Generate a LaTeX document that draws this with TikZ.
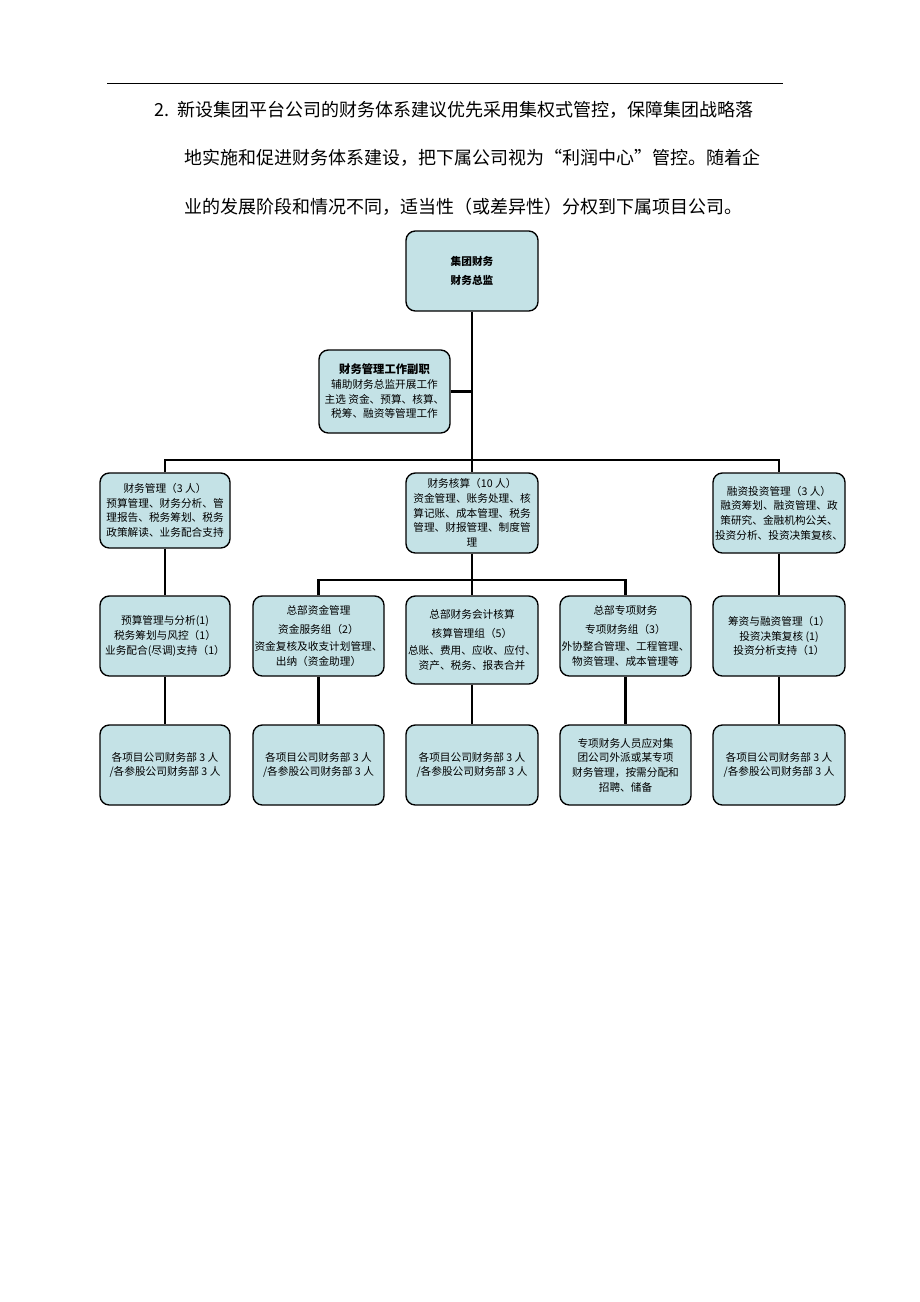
\documentclass[tikz,border=0pt]{standalone}
\usepackage{fontspec}
\setmainfont{Noto Sans CJK SC}
\begin{document}
\begin{tikzpicture}[x=0.75pt,y=-0.75pt,
  bx/.style={draw=black,line width=1pt,fill=cyan!10!blue!5!white!85!cyan,fill={rgb,255:red,196;green,226;blue,230},rounded corners=7pt,align=center,font=\fontsize{8}{11}\selectfont,inner sep=1pt},
  ln/.style={line width=2.2pt}]
\useasboundingbox (0,0) rectangle (920,1302);
\fill[white] (0,0) rectangle (920,1302);
\draw[line width=0.6pt] (107,83) -- (783,83);
\node[anchor=west,font=\fontsize{13.5}{16}\selectfont] (h1) at (150,110) {2.\hspace{6pt}新设集团平台公司的财务体系建议优先采用集权式管控，保障集团战略落};
\node[anchor=west,font=\fontsize{13.5}{16}\selectfont] (h2) at (180,158) {地实施和促进财务体系建设，把下属公司视为“利润中心”管控。随着企};
\node[anchor=west,font=\fontsize{13.5}{16}\selectfont] (h3) at (180,207) {业的发展阶段和情况不同，适当性（或差异性）分权到下属项目公司。};
% helper: box by corners
\newcommand{\bxn}[6]{\node[bx,minimum width=#4*0.75pt-#2*0.75pt,minimum height=#5*0.75pt-#3*0.75pt] (#1) at ({(#2+#4)/2},{(#3+#5)/2}) {#6};}
\bxn{top}{406}{231}{538}{311}{\textbf{集团财务}\\[3pt]\textbf{财务总监}}
\bxn{dep}{319}{350}{450}{433}{{\fontsize{8.5}{12}\selectfont\textbf{财务管理工作副职}}\\辅助财务总监开展工作\\主选 资金、预算、核算、\\税筹、融资等管理工作}
\bxn{a}{100}{473}{230}{548}{财务管理（3 人）\\预算管理、财务分析、管\\理报告、税务筹划、税务\\政策解读、业务配合支持}
\bxn{b}{406}{473}{538}{553}{财务核算（10 人）\\资金管理、账务处理、核\\算记账、成本管理、税务\\管理、财报管理、制度管\\理}
\bxn{c}{713}{473}{845}{553}{融资投资管理（3 人）\\融资筹划、融资管理、政\\策研究、金融机构公关、\\投资分析、投资决策复核、}
\bxn{a2}{100}{596}{230}{676}{预算管理与分析(1)\\税务筹划与风控（1）\\业务配合(尽调)支持（1）}
\bxn{b1}{253}{596}{384}{676}{总部资金管理\\[3pt]资金服务组（2）\\[2pt]资金复核及收支计划管理、\\出纳（资金助理）}
\bxn{b2}{406}{596}{538}{684}{总部财务会计核算\\[3pt]核算管理组（5）\\[2pt]总账、费用、应收、应付、\\资产、税务、报表合并}
\bxn{b3}{560}{596}{691}{676}{总部专项财务\\[3pt]专项财务组（3）\\[2pt]外协整合管理、工程管理、\\物资管理、成本管理等}
\bxn{c2}{713}{596}{845}{676}{筹资与融资管理（1）\\投资决策复核 (1)\\投资分析支持（1）}
\bxn{a3}{100}{725}{230}{805}{各项目公司财务部 3 人\\/各参股公司财务部 3 人}
\bxn{b13}{253}{725}{384}{805}{各项目公司财务部 3 人\\/各参股公司财务部 3 人}
\bxn{b23}{406}{725}{538}{805}{各项目公司财务部 3 人\\/各参股公司财务部 3 人}
\bxn{b33}{560}{725}{691}{805}{专项财务人员应对集\\团公司外派或某专项\\财务管理，按需分配和\\招聘、储备}
\bxn{c3}{713}{725}{845}{805}{各项目公司财务部 3 人\\/各参股公司财务部 3 人}
\coordinate (j1) at (472,460);
\coordinate (j2) at (472,580);
\draw[ln] (top.south) -- (b.north);
\draw[ln] (dep.east) -- (dep.east -| j1);
\draw[ln] (a.north) |- (j1) -| (c.north);
\draw[ln] (a.south) -- (a2.north);
\draw[ln] (c.south) -- (c2.north);
\draw[ln] (b.south) -- (b2.north);
\draw[ln] (b1.north) |- (j2) -| (b3.north);
\draw[ln] (a2.south) -- (a3.north);
\draw[ln] (b1.south) -- (b13.north);
\draw[ln] (b2.south) -- (b23.north);
\draw[ln] (b3.south) -- (b33.north);
\draw[ln] (c2.south) -- (c3.north);
\end{tikzpicture}
\end{document}
